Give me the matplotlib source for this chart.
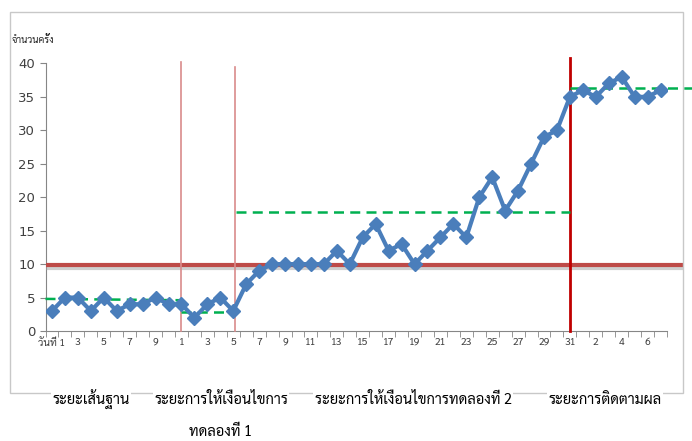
import matplotlib
matplotlib.use("Agg")
import matplotlib.pyplot as plt
import matplotlib.patheffects as pe
from matplotlib import font_manager
from matplotlib.ft2font import FT2Font
from matplotlib.patches import Rectangle

# pick a font that can draw Thai
thai_fonts = set()
for f in font_manager.fontManager.ttflist:
    try:
        if 0x0E01 in FT2Font(f.fname).get_charmap():
            thai_fonts.add(f.name)
    except Exception:
        pass
thai = "DejaVu Sans"
for name in ["Sarabun", "Niramit", "Krub", "Taviraj", "Anuphan"] + sorted(thai_fonts):
    if name in thai_fonts:
        thai = name
        break
fam = [thai, "DejaVu Sans"]

# day labels per phase
baseline_days = list(range(1, 11))
trial1_days = list(range(1, 6))
trial2_days = list(range(6, 32))
follow_days = list(range(1, 8))

# number of times per day
baseline_vals = [3, 5, 5, 3, 5, 3, 4, 4, 5, 4]
trial1_vals = [4, 2, 4, 5, 3]
trial2_vals = [7, 9, 10, 10, 10, 10, 10, 12, 10, 14, 16, 12, 13, 10, 12, 14,
               16, 14, 20, 23, 18, 21, 25, 29, 30, 35]
follow_vals = [36, 35, 37, 38, 35, 35, 36]

# phase level lines (start, end, y at start, y at end)
level_lines = [(-0.5, 10, 4.8, 4.6), (10, 14.1, 2.8, 2.8),
               (14.2, 40, 17.8, 17.8), (40, 49.5, 36.3, 36.3)]
target_level = 9.8
# phase borders (x, top, colour, width)
phase_edges = [(10, 40.2, "#d98b8b", 1.2), (14.1, 39.4, "#d98b8b", 1.2),
               (40, 40.8, "#c00000", 2.0)]

phase_names = ["ระยะเส้นฐาน", "ระยะการให้เงื่อนไขการ", "ระยะการให้เงื่อนไขการทดลองที่ 2",
               "ระยะการติดตามผล"]

values = baseline_vals + trial1_vals + trial2_vals + follow_vals
days = baseline_days + trial1_days + trial2_days + follow_days
labels = [str(d) for d in days]
labels[0] = "วันที่ 1"
x = list(range(len(values)))

fig = plt.figure(figsize=(6.92, 4.41), dpi=100)
ax = fig.add_axes([45.5 / 692, 1 - 331 / 441, (667 - 45.5) / 692, (331 - 63.4) / 441])

# chart frame
fig.add_artist(Rectangle((10 / 692, 1 - 393 / 441), 673 / 692, 381 / 441,
                         transform=fig.transFigure, fill=False, ec="#c8c8c8", lw=1))

ax.plot([-0.5, 48.7], [target_level] * 2, color="#be4b48", lw=3,
        clip_on=False, solid_capstyle="butt", zorder=3,
        path_effects=[pe.SimpleLineShadow(offset=(0, -1.5), shadow_color="#a0a0a0",
                                          alpha=0.5), pe.Normal()])

for xe, top, col, lw in phase_edges:
    ax.plot([xe, xe], [0, top], color=col, lw=lw, clip_on=False, zorder=3)

for x0, x1, y0, y1 in level_lines:
    ax.plot([x0, x1], [y0, y1], color="#00b050", lw=1.8, ls=(0, (4, 2.5)),
            clip_on=False, zorder=4)

ax.plot(x, values, color="#4a7ebb", lw=3, marker="D", ms=7, zorder=5)

ax.set_xlim(-0.5, len(values) - 0.5)
ax.set_ylim(0, 40)
ax.set_yticks(range(0, 41, 5))
ax.set_xticks(x[::2])
ax.set_xticklabels(labels[::2], fontsize=7.5, color="#404040", family=fam)
ax.set_xticks([i - 0.5 for i in range(len(values) + 1)], minor=True)
ax.tick_params(axis="x", which="major", length=0, pad=5)
ax.tick_params(axis="x", which="minor", length=4, color="#868686", direction="out")
ax.tick_params(axis="y", length=4, color="#868686", labelsize=9.5, labelcolor="#404040")
for s in ["top", "right"]:
    ax.spines[s].set_visible(False)
for s in ["left", "bottom"]:
    ax.spines[s].set_color("#868686")

fig.text(12 / 692, 1 - 40 / 441, "จำนวนครั้ง", fontsize=7, family=fam,
         va="center", color="#222222")

name_x = [91, 221, 413, 605]
for nx, name in zip(name_x, phase_names):
    fig.text(nx / 692, 1 - 400 / 441, name, fontsize=10.5, family=fam,
             ha="center", va="center", color="black",
             bbox=dict(fc="white", ec="none", pad=1))
fig.text(221 / 692, 1 - 432 / 441, "ทดลองที่ 1", fontsize=10.5, family=fam,
         ha="center", va="center")

fig.savefig("out.png", dpi=100)
